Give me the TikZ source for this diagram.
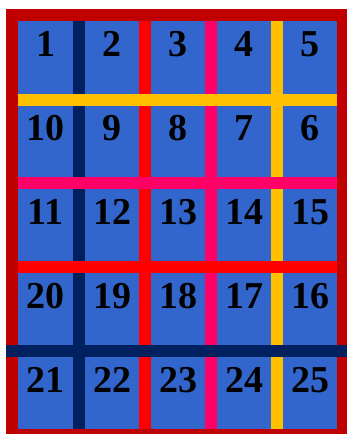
\documentclass[tikz,border=0pt]{standalone}
\usepackage{fontspec}
\setmainfont{Liberation Serif}
\definecolor{framered}{HTML}{C00000}
\definecolor{cellblue}{HTML}{3366CC}
\definecolor{navyline}{HTML}{002060}
\definecolor{redline}{HTML}{FF0000}
\definecolor{pinkline}{HTML}{FF0066}
\definecolor{yellowline}{HTML}{FFC000}
\tikzset{
  num/.style={anchor=base, inner sep=0pt, font=\fontsize{38}{38}\selectfont\bfseries, text=black}
}
\begin{document}
\begin{tikzpicture}[x=1pt,y=-1pt]
\useasboundingbox (0,0) rectangle (347,434);
\fill[white] (0,0) rectangle (347,434);
\clip (0,0) rectangle (347,434);
% frame
\fill[framered] (6,9) rectangle (352,444);
% cell area
\fill[cellblue] (18,21) rectangle (337,429);
% vertical lines
\fill[navyline] (73,21) rectangle (85,429);
\fill[redline] (139,21) rectangle (151,429);
\fill[pinkline] (205,21) rectangle (217,429);
\fill[yellowline] (271,21) rectangle (283,429);
% horizontal lines
\fill[yellowline] (18,94) rectangle (337,105.5);
\fill[pinkline] (18,177) rectangle (337,189);
\fill[redline] (18,261) rectangle (337,273);
\fill[navyline] (6,345) rectangle (352,357);
% numbers
\foreach \r/\ty/\a/\b/\c/\d/\e in {1/21/1/2/3/4/5, 2/105/10/9/8/7/6, 3/189/11/12/13/14/15, 4/273/20/19/18/17/16, 5/357/21/22/23/24/25}{
  \node[num] (n\a) at (45.5,\ty+35.5) {\a};
  \node[num] (n\b) at (112,\ty+35.5) {\b};
  \node[num] (n\c) at (178,\ty+35.5) {\c};
  \node[num] (n\d) at (244,\ty+35.5) {\d};
  \node[num] (n\e) at (310,\ty+35.5) {\e};
}
\end{tikzpicture}
\end{document}
